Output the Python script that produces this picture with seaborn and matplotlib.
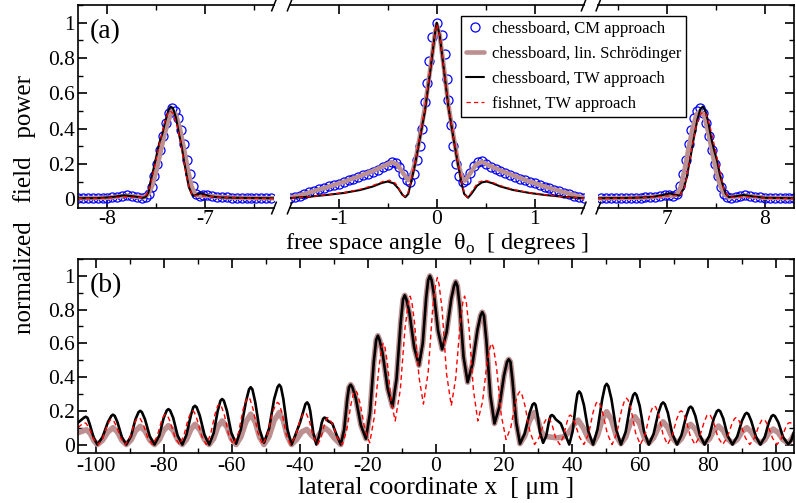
import matplotlib
matplotlib.use("Agg")
import matplotlib.pyplot as plt
import seaborn as sns
from matplotlib.lines import Line2D
from matplotlib.ticker import MultipleLocator, FixedLocator, FuncFormatter

# ---------------------------------------------------------------------------
# (a) far-field power versus free-space angle (three angular windows)
# ---------------------------------------------------------------------------
angle_windows = [(-8.3, -6.3), (-1.5, 1.5), (6.3, 8.3)]
angle_major = [[-8, -7], [-1, 0, 1], [7, 8]]
angle_minor = [[-7.5, -6.5], [-0.5, 0.5], [6.5, 7.5]]

# chessboard, CM approach (open circles)
cm_angle = [
    (-8.30, 0.005), (-8.25, 0.005), (-8.20, 0.005), (-8.15, 0.006), (-8.10, 0.006),
    (-8.05, 0.007), (-8.00, 0.008), (-7.95, 0.010), (-7.90, 0.015), (-7.85, 0.020),
    (-7.80, 0.022), (-7.75, 0.020), (-7.70, 0.015), (-7.65, 0.008),
    (-7.61, 0.010), (-7.58, 0.030), (-7.55, 0.070), (-7.52, 0.130), (-7.49, 0.200),
    (-7.46, 0.280), (-7.43, 0.360), (-7.40, 0.430), (-7.37, 0.490), (-7.34, 0.515),
    (-7.31, 0.500), (-7.28, 0.460), (-7.25, 0.390), (-7.22, 0.310), (-7.19, 0.220),
    (-7.16, 0.140), (-7.13, 0.075), (-7.10, 0.030),
    (-7.06, 0.020), (-7.02, 0.025), (-6.98, 0.022), (-6.93, 0.018), (-6.88, 0.014),
    (-6.83, 0.012), (-6.78, 0.010), (-6.73, 0.009), (-6.68, 0.008), (-6.63, 0.007),
    (-6.58, 0.006), (-6.53, 0.006), (-6.48, 0.005), (-6.43, 0.005), (-6.38, 0.005),
    (-6.33, 0.005),
    (-1.50, 0.005), (-1.45, 0.012), (-1.40, 0.020), (-1.35, 0.030), (-1.30, 0.038),
    (-1.25, 0.046), (-1.20, 0.055), (-1.15, 0.063), (-1.10, 0.072), (-1.05, 0.080),
    (-1.00, 0.088), (-0.95, 0.097), (-0.90, 0.106), (-0.85, 0.115), (-0.80, 0.125),
    (-0.75, 0.135), (-0.70, 0.145), (-0.65, 0.155), (-0.60, 0.168), (-0.55, 0.180),
    (-0.50, 0.195), (-0.46, 0.210), (-0.42, 0.205), (-0.38, 0.180), (-0.34, 0.140),
    (-0.30, 0.110), (-0.27, 0.100), (-0.23, 0.140), (-0.20, 0.220), (-0.17, 0.300),
    (-0.15, 0.400), (-0.12, 0.550), (-0.10, 0.660), (-0.08, 0.780), (-0.05, 0.920),
    (0.00, 1.000), (0.05, 0.930), (0.08, 0.820), (0.10, 0.680), (0.12, 0.560),
    (0.15, 0.420), (0.17, 0.300), (0.20, 0.200), (0.23, 0.130), (0.27, 0.100),
    (0.30, 0.110), (0.34, 0.150), (0.38, 0.190), (0.42, 0.210), (0.46, 0.215),
    (0.50, 0.200), (0.55, 0.185), (0.60, 0.170), (0.65, 0.158), (0.70, 0.147),
    (0.75, 0.137), (0.80, 0.127), (0.85, 0.117), (0.90, 0.107), (0.95, 0.098),
    (1.00, 0.089), (1.05, 0.080), (1.10, 0.071), (1.15, 0.062), (1.20, 0.054),
    (1.25, 0.045), (1.30, 0.037), (1.35, 0.029), (1.40, 0.020), (1.45, 0.012),
    (1.50, 0.005),
    (6.33, 0.005), (6.38, 0.005), (6.43, 0.005), (6.48, 0.005), (6.53, 0.006),
    (6.58, 0.006), (6.63, 0.007), (6.68, 0.008), (6.73, 0.009), (6.78, 0.010),
    (6.83, 0.012), (6.88, 0.014), (6.93, 0.018), (6.98, 0.022), (7.02, 0.025),
    (7.06, 0.020),
    (7.10, 0.030), (7.13, 0.075), (7.16, 0.140), (7.19, 0.220), (7.22, 0.310),
    (7.25, 0.390), (7.28, 0.460), (7.31, 0.500), (7.34, 0.515), (7.37, 0.490),
    (7.40, 0.430), (7.43, 0.360), (7.46, 0.280), (7.49, 0.200), (7.52, 0.130),
    (7.55, 0.070), (7.58, 0.030), (7.61, 0.010),
    (7.65, 0.008), (7.70, 0.015), (7.75, 0.020), (7.80, 0.022), (7.85, 0.020),
    (7.90, 0.015), (7.95, 0.010), (8.00, 0.008), (8.05, 0.007), (8.10, 0.006),
    (8.15, 0.006), (8.20, 0.005), (8.25, 0.005), (8.30, 0.005),
]

# chessboard, linear Schroedinger model
ls_angle = [
    (-8.30, 0.005), (-8.00, 0.008), (-7.90, 0.014), (-7.80, 0.020), (-7.70, 0.014),
    (-7.63, 0.010), (-7.58, 0.030), (-7.54, 0.080), (-7.50, 0.160), (-7.46, 0.260),
    (-7.42, 0.360), (-7.38, 0.440), (-7.34, 0.500), (-7.30, 0.480), (-7.26, 0.400),
    (-7.22, 0.290), (-7.18, 0.170), (-7.14, 0.070), (-7.10, 0.025), (-7.05, 0.020),
    (-6.95, 0.018), (-6.80, 0.010), (-6.60, 0.007), (-6.30, 0.005),
    (-1.50, 0.008), (-1.40, 0.022), (-1.30, 0.038), (-1.12, 0.068), (-0.95, 0.098),
    (-0.78, 0.132), (-0.65, 0.160), (-0.55, 0.185), (-0.46, 0.210), (-0.40, 0.195),
    (-0.34, 0.145), (-0.29, 0.108), (-0.26, 0.125), (-0.22, 0.210), (-0.17, 0.360),
    (-0.12, 0.520), (-0.06, 0.760), (-0.02, 0.930), (0.00, 0.990), (0.03, 0.930),
    (0.07, 0.760), (0.12, 0.530), (0.17, 0.360), (0.22, 0.200), (0.26, 0.120),
    (0.29, 0.105), (0.34, 0.145), (0.40, 0.195), (0.46, 0.212), (0.55, 0.188),
    (0.65, 0.163), (0.78, 0.135), (0.95, 0.100), (1.10, 0.072), (1.30, 0.040),
    (1.40, 0.024), (1.50, 0.008),
    (6.30, 0.005), (6.60, 0.007), (6.80, 0.010), (6.95, 0.018), (7.05, 0.020),
    (7.10, 0.025), (7.14, 0.070), (7.18, 0.170), (7.22, 0.290), (7.26, 0.400),
    (7.30, 0.480), (7.34, 0.500), (7.38, 0.470), (7.42, 0.380), (7.46, 0.270),
    (7.50, 0.160), (7.54, 0.080), (7.58, 0.030), (7.63, 0.010), (7.70, 0.014),
    (7.80, 0.020), (7.90, 0.014), (8.00, 0.008), (8.30, 0.005),
]

# chessboard, TW approach
tw_angle = [
    (-8.30, 0.005), (-8.10, 0.006), (-7.95, 0.012), (-7.83, 0.022), (-7.72, 0.015),
    (-7.64, 0.008), (-7.61, 0.012), (-7.58, 0.040), (-7.56, 0.100), (-7.53, 0.170),
    (-7.51, 0.220), (-7.47, 0.320), (-7.44, 0.370), (-7.41, 0.440), (-7.38, 0.500),
    (-7.355, 0.525), (-7.33, 0.515), (-7.30, 0.460), (-7.27, 0.370), (-7.24, 0.290),
    (-7.22, 0.220), (-7.19, 0.130), (-7.17, 0.070), (-7.14, 0.030), (-7.12, 0.018),
    (-7.08, 0.028), (-7.05, 0.033), (-7.00, 0.025), (-6.94, 0.015), (-6.85, 0.010),
    (-6.60, 0.007), (-6.30, 0.005),
    (-1.50, 0.006), (-1.30, 0.014), (-1.12, 0.024), (-0.95, 0.035), (-0.78, 0.052),
    (-0.65, 0.072), (-0.56, 0.092), (-0.50, 0.100), (-0.44, 0.090), (-0.39, 0.060),
    (-0.35, 0.025), (-0.32, 0.011), (-0.29, 0.030), (-0.26, 0.100), (-0.22, 0.200),
    (-0.17, 0.350), (-0.12, 0.500), (-0.06, 0.750), (-0.02, 0.930), (0.00, 1.000),
    (0.03, 0.930), (0.07, 0.750), (0.12, 0.520), (0.17, 0.350), (0.21, 0.220),
    (0.25, 0.100), (0.28, 0.030), (0.32, 0.008), (0.36, 0.035), (0.41, 0.075),
    (0.46, 0.095), (0.51, 0.100), (0.57, 0.090), (0.65, 0.072), (0.78, 0.052),
    (0.95, 0.035), (1.10, 0.024), (1.30, 0.013), (1.50, 0.005),
    (6.30, 0.005), (6.60, 0.007), (6.85, 0.012), (6.97, 0.025), (7.03, 0.033),
    (7.08, 0.025), (7.13, 0.020), (7.17, 0.060), (7.20, 0.120), (7.22, 0.180),
    (7.25, 0.270), (7.27, 0.335), (7.31, 0.450), (7.34, 0.510), (7.365, 0.525),
    (7.39, 0.505), (7.42, 0.440), (7.456, 0.335), (7.48, 0.280), (7.51, 0.220),
    (7.54, 0.140), (7.575, 0.070), (7.60, 0.030), (7.63, 0.012), (7.70, 0.016),
    (7.78, 0.024), (7.88, 0.015), (8.00, 0.008), (8.30, 0.005),
]

# fishnet, TW approach
fn_angle = [
    (-8.30, 0.004), (-8.00, 0.006), (-7.85, 0.012), (-7.72, 0.010), (-7.64, 0.010),
    (-7.60, 0.025), (-7.56, 0.080), (-7.52, 0.180), (-7.47, 0.310), (-7.42, 0.430),
    (-7.38, 0.490), (-7.36, 0.500), (-7.33, 0.485), (-7.29, 0.420), (-7.25, 0.310),
    (-7.21, 0.180), (-7.17, 0.070), (-7.13, 0.020), (-7.07, 0.020), (-7.00, 0.018),
    (-6.85, 0.010), (-6.60, 0.006), (-6.30, 0.004),
    (-1.50, 0.005), (-1.30, 0.014), (-1.12, 0.025), (-0.95, 0.037), (-0.78, 0.056),
    (-0.65, 0.078), (-0.55, 0.100), (-0.48, 0.108), (-0.42, 0.090), (-0.37, 0.045),
    (-0.33, 0.015), (-0.30, 0.022), (-0.27, 0.085), (-0.22, 0.210), (-0.17, 0.360),
    (-0.12, 0.510), (-0.06, 0.760), (-0.02, 0.930), (0.00, 0.990), (0.03, 0.930),
    (0.07, 0.750), (0.12, 0.520), (0.17, 0.360), (0.21, 0.230), (0.26, 0.085),
    (0.29, 0.022), (0.32, 0.010), (0.36, 0.045), (0.42, 0.095), (0.49, 0.108),
    (0.56, 0.097), (0.65, 0.077), (0.78, 0.055), (0.95, 0.036), (1.10, 0.025),
    (1.30, 0.013), (1.50, 0.005),
    (6.30, 0.004), (6.60, 0.006), (6.85, 0.010), (7.00, 0.018), (7.07, 0.020),
    (7.13, 0.020), (7.18, 0.070), (7.22, 0.180), (7.26, 0.310), (7.30, 0.420),
    (7.34, 0.480), (7.37, 0.495), (7.40, 0.480), (7.44, 0.410), (7.49, 0.290),
    (7.54, 0.160), (7.58, 0.060), (7.62, 0.015), (7.68, 0.010), (7.78, 0.014),
    (7.90, 0.010), (8.00, 0.006), (8.30, 0.004),
]

# ---------------------------------------------------------------------------
# (b) near-field power versus lateral coordinate x [um]
# ---------------------------------------------------------------------------
# chessboard TW, central part (shared with the lin. Schroedinger curve)
core_x = [
    (-28.0, 0.000), (-27.0, 0.090), (-26.1, 0.270), (-25.6, 0.340), (-25.1, 0.355),
    (-24.6, 0.340), (-23.6, 0.275), (-22.1, 0.115), (-20.6, 0.035), (-19.4, 0.190),
    (-18.3, 0.490), (-17.6, 0.620), (-17.1, 0.645), (-16.6, 0.620), (-15.7, 0.540),
    (-14.2, 0.330), (-12.8, 0.225), (-11.6, 0.390), (-10.4, 0.720), (-9.7, 0.860),
    (-9.2, 0.885), (-8.7, 0.860), (-7.8, 0.780), (-6.4, 0.575), (-5.0, 0.470),
    (-3.9, 0.600), (-2.9, 0.870), (-2.3, 0.975), (-1.8, 1.000), (-1.3, 0.975),
    (-0.6, 0.890), (0.6, 0.675), (1.8, 0.565), (3.1, 0.665), (4.5, 0.865),
    (5.3, 0.940), (5.8, 0.965), (6.3, 0.940), (7.0, 0.815), (8.1, 0.520),
    (9.3, 0.370), (10.7, 0.475), (12.2, 0.680), (13.1, 0.765), (13.6, 0.785),
    (14.1, 0.765), (14.8, 0.620), (16.0, 0.290), (17.2, 0.125), (18.6, 0.220),
    (20.0, 0.410), (20.9, 0.490), (21.4, 0.505), (21.9, 0.490), (22.5, 0.380),
    (23.6, 0.130), (24.7, 0.005),
]

tw_left = [
    (-105.3, 0.130), (-103.5, 0.160), (-103.0, 0.165), (-102.5, 0.158), (-101.9, 0.124),
    (-100.7, 0.041), (-99.6, 0.000), (-98.1, 0.044), (-96.5, 0.133), (-95.5, 0.170),
    (-95.0, 0.177), (-94.5, 0.170), (-93.7, 0.133), (-92.4, 0.044), (-91.1, 0.000),
    (-89.7, 0.050), (-88.4, 0.150), (-87.5, 0.192), (-87.0, 0.200), (-86.5, 0.192),
    (-85.6, 0.150), (-84.2, 0.050), (-82.8, 0.000), (-81.4, 0.053), (-80.1, 0.158),
    (-79.2, 0.202), (-78.7, 0.210), (-78.2, 0.202), (-77.3, 0.158), (-76.0, 0.053),
    (-74.6, 0.000), (-73.4, 0.058), (-72.1, 0.173), (-71.4, 0.221), (-70.9, 0.230),
    (-70.4, 0.221), (-69.5, 0.173), (-68.1, 0.058), (-66.7, 0.000), (-65.4, 0.068),
    (-64.2, 0.200), (-63.4, 0.260), (-62.9, 0.270), (-62.4, 0.260), (-61.5, 0.200),
    (-60.2, 0.070), (-58.8, 0.005), (-57.4, 0.090), (-55.9, 0.255), (-55.0, 0.327),
    (-54.5, 0.340), (-54.0, 0.327), (-53.2, 0.255), (-51.9, 0.090), (-50.6, 0.010),
    (-49.1, 0.095), (-47.6, 0.270), (-46.6, 0.341), (-46.1, 0.355), (-45.6, 0.341),
    (-44.9, 0.270), (-43.7, 0.090), (-42.5, 0.000), (-41.5, 0.050), (-40.0, 0.130),
    (-39.0, 0.200), (-38.4, 0.240), (-37.9, 0.250), (-37.4, 0.235), (-37.0, 0.200),
    (-36.1, 0.070), (-35.2, 0.000), (-34.4, 0.050), (-33.6, 0.130), (-33.2, 0.153),
    (-32.8, 0.160), (-32.3, 0.155), (-31.8, 0.140), (-30.5, 0.125), (-29.3, 0.060),
]

tw_right = [
    (26.1, 0.065), (27.5, 0.185), (28.4, 0.237), (28.9, 0.245), (29.3, 0.235),
    (29.8, 0.185), (30.6, 0.070), (31.5, 0.010), (32.4, 0.050), (33.2, 0.135),
    (33.7, 0.170), (34.1, 0.175), (34.6, 0.168), (35.2, 0.150), (36.7, 0.125),
    (38.0, 0.060), (39.2, 0.000), (40.2, 0.080), (41.1, 0.235), (41.6, 0.300),
    (42.1, 0.315), (42.6, 0.302), (43.5, 0.235), (44.8, 0.080), (46.2, 0.000),
    (47.5, 0.090), (48.9, 0.270), (49.7, 0.346), (50.2, 0.360), (50.7, 0.346),
    (51.6, 0.270), (53.0, 0.090), (54.4, 0.000), (55.8, 0.076), (57.1, 0.230),
    (58.0, 0.293), (58.5, 0.305), (59.0, 0.293), (59.9, 0.230), (61.2, 0.076),
    (62.6, 0.000), (64.0, 0.063), (65.4, 0.188), (66.3, 0.240), (66.8, 0.250),
    (67.3, 0.240), (68.2, 0.188), (69.5, 0.063), (70.9, 0.000), (72.2, 0.056),
    (73.6, 0.169), (74.4, 0.216), (74.9, 0.225), (75.4, 0.216), (76.3, 0.169),
    (77.6, 0.056), (79.0, 0.000), (80.4, 0.051), (81.7, 0.154), (82.6, 0.197),
    (83.1, 0.205), (83.6, 0.197), (84.5, 0.154), (85.8, 0.051), (87.2, 0.000),
    (88.6, 0.047), (90.0, 0.141), (90.9, 0.180), (91.4, 0.188), (91.9, 0.180),
    (92.7, 0.141), (94.1, 0.047), (95.4, 0.000), (96.7, 0.044), (97.9, 0.131),
    (98.7, 0.168), (99.2, 0.175), (99.7, 0.168), (100.7, 0.131), (102.1, 0.044),
    (103.6, 0.000), (104.5, 0.025), (105.3, 0.075),
]

ls_left = [
    (-105.3, 0.070), (-102.8, 0.088), (-101.7, 0.066), (-100.6, 0.022), (-99.6, 0.000),
    (-98.1, 0.025), (-96.5, 0.075), (-95.0, 0.100), (-93.7, 0.075), (-92.4, 0.025),
    (-91.1, 0.000), (-89.7, 0.027), (-88.4, 0.081), (-87.0, 0.108), (-85.6, 0.081),
    (-84.2, 0.027), (-82.8, 0.000), (-81.4, 0.028), (-80.1, 0.084), (-78.7, 0.112),
    (-77.3, 0.084), (-76.0, 0.028), (-74.6, 0.000), (-73.4, 0.030), (-72.1, 0.090),
    (-70.9, 0.120), (-69.5, 0.090), (-68.1, 0.030), (-66.7, 0.000), (-65.4, 0.035),
    (-64.2, 0.105), (-62.9, 0.140), (-61.5, 0.105), (-60.2, 0.035), (-58.8, 0.000),
    (-57.4, 0.045), (-55.9, 0.135), (-54.5, 0.180), (-53.2, 0.135), (-51.9, 0.045),
    (-50.6, 0.000), (-49.1, 0.048), (-47.6, 0.143), (-46.1, 0.190), (-44.9, 0.143),
    (-43.7, 0.048), (-42.5, 0.000), (-41.0, 0.030), (-39.5, 0.075), (-38.0, 0.090),
    (-36.6, 0.055), (-35.3, 0.030), (-34.0, 0.070), (-32.8, 0.100), (-31.5, 0.080),
    (-30.0, 0.040),
]

ls_right = [
    (26.1, 0.050), (27.5, 0.140), (28.9, 0.190), (29.9, 0.150), (30.9, 0.080),
    (31.8, 0.050), (33.5, 0.045), (35.5, 0.040), (37.5, 0.045), (39.0, 0.070),
    (40.4, 0.115), (41.8, 0.145), (43.3, 0.100), (44.8, 0.035), (46.2, 0.005),
    (47.5, 0.053), (48.9, 0.148), (50.2, 0.195), (51.6, 0.148), (53.0, 0.053),
    (54.4, 0.005), (55.8, 0.045), (57.1, 0.125), (58.5, 0.165), (59.9, 0.125),
    (61.2, 0.045), (62.6, 0.008), (64.0, 0.040), (65.4, 0.100), (66.8, 0.135),
    (68.2, 0.100), (69.5, 0.040), (70.9, 0.008), (72.2, 0.035), (73.6, 0.090),
    (74.9, 0.120), (76.3, 0.090), (77.6, 0.035), (79.0, 0.008), (80.4, 0.033),
    (81.7, 0.082), (83.1, 0.110), (84.5, 0.082), (85.8, 0.033), (87.2, 0.008),
    (88.6, 0.030), (90.0, 0.076), (91.4, 0.100), (92.7, 0.076), (94.1, 0.030),
    (95.4, 0.008), (96.7, 0.028), (97.9, 0.070), (99.2, 0.092), (100.7, 0.070),
    (102.1, 0.028), (103.6, 0.008), (104.5, 0.030), (105.3, 0.060),
]

fn_x = [
    (-105.3, 0.100), (-103.9, 0.125), (-103.4, 0.130), (-102.9, 0.125), (-102.0, 0.098),
    (-100.7, 0.033), (-99.3, 0.000), (-98.0, 0.038), (-96.7, 0.113), (-95.9, 0.144),
    (-95.4, 0.150), (-94.9, 0.144), (-94.1, 0.113), (-92.7, 0.038), (-91.4, 0.000),
    (-90.1, 0.040), (-88.8, 0.120), (-88.0, 0.154), (-87.5, 0.160), (-87.0, 0.154),
    (-86.1, 0.120), (-84.8, 0.040), (-83.4, 0.000), (-82.1, 0.045), (-80.8, 0.135),
    (-80.0, 0.173), (-79.5, 0.180), (-79.0, 0.173), (-78.2, 0.135), (-76.8, 0.045),
    (-75.5, 0.000), (-74.2, 0.050), (-72.9, 0.150), (-72.1, 0.192), (-71.6, 0.200),
    (-71.1, 0.192), (-70.3, 0.150), (-68.9, 0.050), (-67.6, 0.000), (-66.3, 0.060),
    (-65.0, 0.180), (-64.2, 0.230), (-63.7, 0.240), (-63.2, 0.230), (-62.3, 0.180),
    (-61.0, 0.060), (-59.6, 0.000), (-58.1, 0.070), (-56.7, 0.210), (-55.7, 0.269),
    (-55.2, 0.280), (-54.7, 0.269), (-53.8, 0.210), (-52.4, 0.070), (-51.0, 0.000),
    (-49.5, 0.063), (-48.1, 0.188), (-47.1, 0.240), (-46.6, 0.250), (-46.1, 0.240),
    (-45.3, 0.188), (-44.1, 0.063), (-42.8, 0.000), (-41.4, 0.048), (-40.0, 0.143),
    (-39.1, 0.182), (-38.6, 0.190), (-38.1, 0.182), (-37.3, 0.143), (-36.1, 0.048),
    (-34.8, 0.000), (-33.8, 0.040), (-32.8, 0.120), (-32.2, 0.153), (-31.8, 0.160),
    (-31.4, 0.153), (-30.4, 0.120), (-29.0, 0.040), (-27.6, 0.000), (-26.3, 0.080),
    (-25.0, 0.240), (-24.2, 0.307), (-23.7, 0.320), (-23.2, 0.307), (-22.3, 0.243),
    (-20.9, 0.088), (-19.5, 0.010), (-18.2, 0.158), (-16.8, 0.453), (-16.0, 0.576),
    (-15.5, 0.600), (-15.0, 0.576), (-14.3, 0.485), (-13.2, 0.255), (-12.0, 0.140),
    (-10.5, 0.325), (-9.1, 0.695), (-8.1, 0.845), (-7.6, 0.880), (-7.1, 0.845),
    (-6.3, 0.720), (-5.0, 0.400), (-3.7, 0.240), (-2.3, 0.430), (-1.0, 0.800),
    (-0.1, 0.950), (0.4, 0.990), (0.9, 0.950), (1.8, 0.800), (3.1, 0.420),
    (4.5, 0.230), (5.8, 0.393), (7.1, 0.718), (7.9, 0.845), (8.4, 0.880),
    (8.9, 0.845), (9.7, 0.695), (11.0, 0.325), (12.3, 0.140), (13.7, 0.255),
    (15.0, 0.485), (15.9, 0.576), (16.4, 0.600), (16.9, 0.576), (17.8, 0.458),
    (19.2, 0.173), (20.6, 0.030), (22.0, 0.101), (23.3, 0.244), (24.2, 0.302),
    (24.7, 0.315), (25.2, 0.302), (26.1, 0.236), (27.6, 0.079), (29.0, 0.000),
    (30.3, 0.040), (31.6, 0.120), (32.5, 0.154), (32.9, 0.160), (33.3, 0.154),
    (34.1, 0.120), (35.2, 0.040), (36.4, 0.000), (37.4, 0.044), (38.5, 0.131),
    (39.1, 0.168), (39.5, 0.175), (39.9, 0.168), (40.8, 0.131), (42.2, 0.044),
    (43.5, 0.000), (44.9, 0.064), (46.2, 0.191), (47.1, 0.245), (47.6, 0.255),
    (48.1, 0.245), (49.0, 0.191), (50.4, 0.064), (51.8, 0.000), (53.2, 0.069),
    (54.6, 0.206), (55.5, 0.264), (56.0, 0.275), (56.5, 0.264), (57.4, 0.206),
    (58.7, 0.069), (60.1, 0.000), (61.5, 0.058), (62.8, 0.173), (63.7, 0.221),
    (64.2, 0.230), (64.7, 0.221), (65.5, 0.173), (66.8, 0.058), (68.1, 0.000),
    (69.4, 0.050), (70.8, 0.150), (71.6, 0.192), (72.1, 0.200), (72.6, 0.192),
    (73.5, 0.150), (74.8, 0.050), (76.2, 0.000), (77.5, 0.045), (78.9, 0.135),
    (79.7, 0.173), (80.2, 0.180), (80.7, 0.173), (81.6, 0.135), (82.9, 0.045),
    (84.3, 0.000), (85.6, 0.040), (87.0, 0.120), (87.8, 0.154), (88.3, 0.160),
    (88.8, 0.154), (89.6, 0.120), (91.0, 0.040), (92.3, 0.000), (93.6, 0.038),
    (95.0, 0.113), (95.8, 0.144), (96.3, 0.150), (96.8, 0.144), (97.6, 0.113),
    (99.0, 0.038), (100.3, 0.000), (101.5, 0.033), (102.8, 0.098), (103.5, 0.125),
    (104.0, 0.130), (104.5, 0.127), (105.3, 0.110),
]

labels = [
    "chessboard, CM approach",
    "chessboard, lin. Schrödinger",
    "chessboard, TW approach",
    "fishnet, TW approach",
]

C_CM = "#0000ff"
C_LS = "#bc9090"
C_TW = "#000000"
C_FN = "#ff0000"
FN_DASH = (0, (3.5, 2.5))

# ---------------------------------------------------------------------------
sns.set_theme(style="ticks")
plt.rcParams.update({
    "font.family": ["Liberation Serif", "DejaVu Serif"],
    "mathtext.fontset": "custom",
    "mathtext.rm": "Liberation Serif",
    "axes.unicode_minus": False,
    "text.color": "black",
    "axes.labelcolor": "black",
    "axes.edgecolor": "black",
    "axes.linewidth": 1.2,
    "xtick.color": "black", "ytick.color": "black",
    "xtick.direction": "in", "ytick.direction": "in",
    "xtick.major.size": 6.5, "ytick.major.size": 6.5,
    "xtick.minor.size": 3.5, "ytick.minor.size": 3.5,
    "xtick.major.width": 1.2, "ytick.major.width": 1.2,
    "xtick.minor.width": 1.0, "ytick.minor.width": 1.0,
    "xtick.labelsize": 15.5, "ytick.labelsize": 15.5,
    "xtick.major.pad": 1.5, "ytick.major.pad": 2.0,
})

W, H = 796, 503
fig = plt.figure(figsize=(W / 100, H / 100), dpi=100)


def frame(left, top, right, bottom):
    return [left / W, 1 - bottom / H, (right - left) / W, (bottom - top) / H]


ax_l = fig.add_axes(frame(78, 5, 274, 208))
ax_m = fig.add_axes(frame(289.7, 5, 583.7, 208))
ax_r = fig.add_axes(frame(598.4, 5, 794.4, 208))
ax_b = fig.add_axes(frame(78, 259, 794, 453))
seg_axes = [ax_l, ax_m, ax_r]


def unzip(pairs):
    return [p[0] for p in pairs], [p[1] for p in pairs]


def draw_line(ax, pairs, **kws):
    xs, ys = unzip(pairs)
    sns.lineplot(x=xs, y=ys, ax=ax, sort=False, estimator=None,
                 errorbar=None, legend=False, **kws)


yfmt = FuncFormatter(lambda v, _: "0" if abs(v) < 1e-9 else f"{v:.1f}".rstrip("0").rstrip("."))

for ax, lim, maj, mnr in zip(seg_axes, angle_windows, angle_major, angle_minor):
    draw_line(ax, cm_angle, marker="o", linestyle="", mfc="none", mec=C_CM,
              ms=6.5, mew=0.9, color=C_CM)
    draw_line(ax, ls_angle, color=C_LS, linewidth=3.3)
    draw_line(ax, tw_angle, color=C_TW, linewidth=1.5)
    draw_line(ax, fn_angle, color=C_FN, linewidth=0.9, linestyle=FN_DASH)
    ax.set_xlim(*lim)
    ax.set_ylim(-0.05, 1.1)
    ax.xaxis.set_major_locator(FixedLocator(maj))
    ax.xaxis.set_minor_locator(FixedLocator(mnr))
    ax.yaxis.set_major_locator(MultipleLocator(0.2))
    ax.yaxis.set_minor_locator(MultipleLocator(0.1))
    ax.yaxis.set_major_formatter(yfmt)
    ax.tick_params(axis="x", which="both", top=True, bottom=True)
    ax.set_xlabel("")
    ax.set_ylabel("")

ax_l.spines["right"].set_visible(False)
ax_m.spines["left"].set_visible(False)
ax_m.spines["right"].set_visible(False)
ax_r.spines["left"].set_visible(False)
ax_l.tick_params(axis="y", which="both", left=True, right=False, labelleft=True)
ax_m.tick_params(axis="y", which="both", left=False, right=False, labelleft=False)
ax_r.tick_params(axis="y", which="both", left=False, right=True, labelleft=False)


def slash_marks(ax, xa):
    bb = ax.get_position()
    dx = 2.6 / (bb.width * W)
    dy = 6.5 / (bb.height * H)
    for ya in (0.0, 1.0):
        ax.plot([xa - dx, xa + dx], [ya - dy, ya + dy], transform=ax.transAxes,
                color="black", lw=1.1, clip_on=False, solid_capstyle="butt")


slash_marks(ax_l, 1.0)
slash_marks(ax_m, 0.0)
slash_marks(ax_m, 1.0)
slash_marks(ax_r, 0.0)

# panel (b)
draw_line(ax_b, ls_left + core_x + ls_right, color=C_LS, linewidth=4.0)
draw_line(ax_b, tw_left + core_x + tw_right, color=C_TW, linewidth=1.9)
draw_line(ax_b, fn_x, color=C_FN, linewidth=1.0, linestyle=FN_DASH)
ax_b.set_xlim(-105.3, 105.3)
ax_b.set_ylim(-0.05, 1.1)
ax_b.xaxis.set_major_locator(MultipleLocator(20))
ax_b.xaxis.set_minor_locator(MultipleLocator(10))
ax_b.yaxis.set_major_locator(MultipleLocator(0.2))
ax_b.yaxis.set_minor_locator(MultipleLocator(0.1))
ax_b.yaxis.set_major_formatter(yfmt)
ax_b.tick_params(axis="both", which="both", top=True, right=True)
ax_b.tick_params(axis="x", which="major", pad=3.0)
ax_b.set_xlabel("")
ax_b.set_ylabel("")

# labels and annotations
ax_l.text(12 / 196, (208 - 19) / 203, "(a)", transform=ax_l.transAxes,
          fontsize=20, va="top", ha="left")
ax_b.text(12 / 716, (453 - 273) / 194, "(b)", transform=ax_b.transAxes,
          fontsize=20, va="top", ha="left")

fig.text(436.5 / W, 1 - 248.5 / H, "free space angle  θ$_\\mathregular{o}$  [ degrees ]",
         ha="center", va="baseline", fontsize=17.5)
fig.text(436.5 / W, 1 - 494 / H, "lateral coordinate x  [ μm ]",
         ha="center", va="baseline", fontsize=18.5)
fig.text(25 / W, 1 - 205 / H, "normalized   field   power", rotation=90,
         ha="center", va="center", fontsize=18)

handles = [
    Line2D([0], [0], ls="none", marker="o", mfc="none", mec=C_CM, ms=6.5, mew=0.9),
    Line2D([0], [0], color=C_LS, lw=3.3),
    Line2D([0], [0], color=C_TW, lw=1.5),
    Line2D([0], [0], color=C_FN, lw=0.9, ls=FN_DASH),
]
leg = fig.legend(handles, labels, loc="upper left",
                 bbox_to_anchor=(461 / W, 1 - 15.7 / H), bbox_transform=fig.transFigure,
                 frameon=True, fancybox=False, shadow=False, framealpha=1,
                 edgecolor="black", fontsize=12.0, handlelength=1.1,
                 handletextpad=0.45, labelspacing=0.55, borderpad=0.3,
                 borderaxespad=0.0)
leg.get_frame().set_linewidth(1.0)

fig.savefig("out.png", dpi=100)
